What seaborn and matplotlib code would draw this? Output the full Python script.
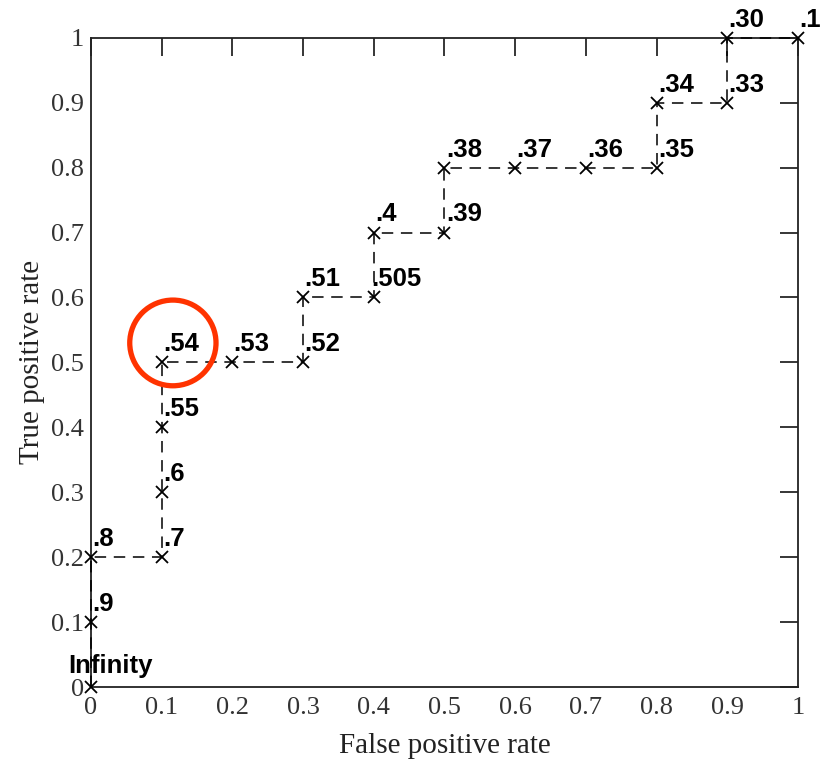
import matplotlib
matplotlib.use("Agg")
import matplotlib.pyplot as plt
import seaborn as sns
import pandas as pd
from matplotlib.patches import Ellipse
from matplotlib.ticker import FuncFormatter, MultipleLocator

fpr = [0.0, 0.0, 0.0, 0.1, 0.1, 0.1, 0.1, 0.2, 0.3, 0.3, 0.4, 0.4, 0.5, 0.5,
       0.6, 0.7, 0.8, 0.8, 0.9, 0.9, 1.0]
tpr = [0.0, 0.1, 0.2, 0.2, 0.3, 0.4, 0.5, 0.5, 0.5, 0.6, 0.6, 0.7, 0.7, 0.8,
       0.8, 0.8, 0.8, 0.9, 0.9, 1.0, 1.0]
thresholds = ["Infinity", ".9", ".8", ".7", ".6", ".55", ".54", ".53", ".52", ".51",
              ".505", ".4", ".39", ".38", ".37", ".36", ".35", ".34", ".33", ".30", ".1"]

df = pd.DataFrame({"fpr": fpr, "tpr": tpr, "thr": thresholds, "order": range(len(fpr))})

sns.set_theme(style="white")
plt.rcParams["font.family"] = ["Liberation Serif", "DejaVu Serif"]

fig = plt.figure(figsize=(8.26, 7.62), dpi=100)
ax = fig.add_axes([0.110, 0.0984, 0.856, 0.852])

sns.lineplot(data=df, x="fpr", y="tpr", sort=False, estimator=None, ax=ax,
             color="black", linestyle=(0, (7.5, 5)), linewidth=1.1,
             marker="x", markersize=9, markeredgewidth=1.3,
             markeredgecolor="black", clip_on=False, zorder=3)

for x, y, t in zip(fpr, tpr, thresholds):
    if t == "Infinity":
        off = (-16, 10)
    elif t == ".505":
        off = (-2, 8)
    else:
        off = (1, 8)
    ax.annotate(t, (x, y), xytext=off, textcoords="offset points",
                ha="left", va="baseline", fontsize=18.5, fontweight="bold",
                family=["Liberation Sans", "DejaVu Sans"], color="black",
                annotation_clip=False, zorder=4)

ax.set_xlim(0, 1)
ax.set_ylim(0, 1)
ax.xaxis.set_major_locator(MultipleLocator(0.1))
ax.yaxis.set_major_locator(MultipleLocator(0.1))
fmt = FuncFormatter(lambda v, p: "%g" % round(v, 2))
ax.xaxis.set_major_formatter(fmt)
ax.yaxis.set_major_formatter(fmt)
ax.tick_params(direction="in", length=13, width=1.1, color="black",
               top=True, right=True, labelsize=19, labelcolor="#333333", pad=5)
ax.tick_params(axis="x", pad=7)
for s in ax.spines.values():
    s.set_color("#222222")
    s.set_linewidth(1.3)
    s.set_visible(True)

ax.set_xlabel("False positive rate", fontsize=21, color="#222222", labelpad=10)
ax.set_ylabel("True positive rate", fontsize=21, color="#222222", labelpad=4)

circle = Ellipse((0.116, 0.530), width=0.122, height=0.132, fill=False,
                 edgecolor="#FF3300", linewidth=3.8, clip_on=False, zorder=5)
ax.add_patch(circle)

fig.savefig("out.png", dpi=100, facecolor="white")
